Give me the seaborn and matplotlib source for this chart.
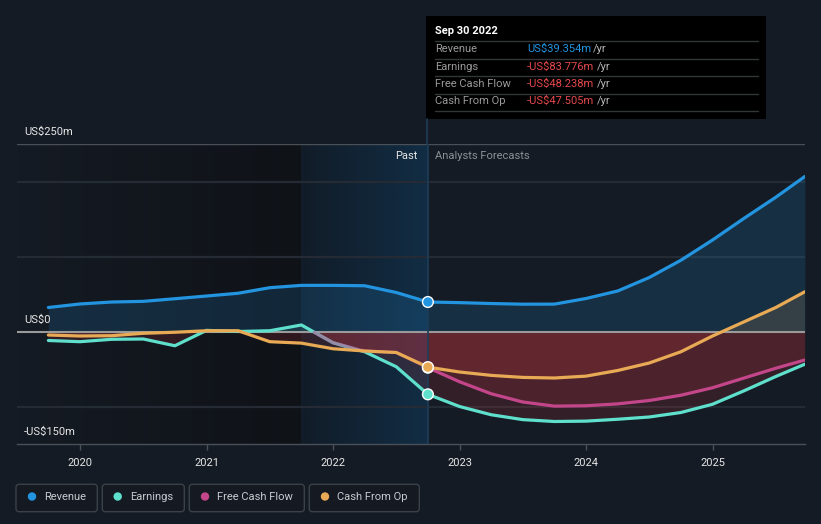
import numpy as np
import pandas as pd
import matplotlib
matplotlib.use("Agg")
import matplotlib.pyplot as plt
import seaborn as sns
from matplotlib.patches import FancyBboxPatch, Rectangle, Circle

# ---------------- data (US$ m, dates as fractional years) ----------------
past_dates = [2019.75, 2020.0, 2020.25, 2020.5, 2020.75, 2021.0, 2021.25,
              2021.5, 2021.75, 2022.0, 2022.25, 2022.5, 2022.75]
rev_past = [32, 36.7, 39.3, 40.2, 43.7, 47.3, 51, 58.4, 61.5, 61.5, 61, 52, 39.354]
earn_past = [-12, -13.6, -10.4, -10, -19, 1.5, 0, 1, 8.7, -15, -27, -47, -83.776]
cfo_past = [-4.7, -6, -5.6, -2.4, -1, 1, 1, -13.6, -15.5, -23, -26, -28, -47.505]
fcf_past_dates = [2021.85, 2022.0, 2022.25, 2022.5, 2022.75]
fcf_past = [-1, -15, -26, -28, -48.238]

fc_dates = [2022.75, 2023.0, 2023.25, 2023.5, 2023.75, 2024.0, 2024.25,
            2024.5, 2024.75, 2025.0, 2025.25, 2025.5, 2025.73]
rev_fc = [39.354, 38.5, 37.3, 36.4, 36.5, 44, 54, 72, 95, 122, 151, 179, 206.7]
earn_fc = [-83.776, -100, -111, -117.5, -120, -119.5, -117, -114, -108, -97, -79, -60, -43.6]
fcf_fc = [-48.238, -67, -83, -94, -99.5, -99, -96.5, -92, -85, -75, -62, -49, -38]
cfo_fc = [-47.505, -54, -58.5, -61.2, -62, -59.5, -52, -42, -27, -6, 13, 32, 53]

year_ticks = [2020, 2021, 2022, 2023, 2024, 2025]
year_labels = ["2020", "2021", "2022", "2023", "2024", "2025"]
y_labels = ["US$250m", "US$0", "-US$150m"]

series_names = ["Revenue", "Earnings", "Free Cash Flow", "Cash From Op"]
tooltip_date = "Sep 30 2022"
tooltip_values = ["US$39.354m", "-US$83.776m", "-US$48.238m", "-US$47.505m"]

colors = {"Revenue": "#2394df", "Earnings": "#5fe0cc",
          "Free Cash Flow": "#c4468a", "Cash From Op": "#e8aa55"}
BG = "#151b24"
NEG = "#e03a44"

sns.set_theme(style="dark")
plt.rcParams["font.family"] = ["Roboto", "DejaVu Sans"]

fig = plt.figure(figsize=(8.21, 5.24), dpi=100, facecolor=BG)
ax = fig.add_axes([17 / 821, 1 - 444 / 524, 788 / 821, 300 / 524])
ax.set_facecolor(BG)
X0, X1 = 2019.502, 2025.731
Y0, Y1 = -150, 250

# background regions (gradients)
def hgrad(x0, x1, c0, c1, z=0):
    n = 256
    t = np.linspace(0, 1, n)
    c0 = np.array(c0) / 255.0
    c1 = np.array(c1) / 255.0
    img = (c0[None, :] * (1 - t[:, None]) + c1[None, :] * t[:, None])[None, :, :]
    ax.imshow(img, extent=[x0, x1, Y0, Y1], aspect="auto", zorder=z,
              interpolation="bilinear")

hgrad(X0, 2021.75, (21, 27, 36), (15, 18, 23))
hgrad(2021.75, 2022.75, (17, 28, 40), (17, 45, 68))

# gridlines
for v in [200, 100, -100]:
    ax.axhline(v, color="#252b34", lw=1.6, zorder=1)
ax.axhline(250, color="#4a5058", lw=1.0, zorder=1)

# full series for fills
def fill_series(d, v, col, pos_alpha):
    d = np.array(d, dtype=float)
    v = np.array(v, dtype=float)
    ax.fill_between(d, v, 0, where=v < 0, interpolate=True, color=NEG,
                    alpha=0.15, lw=0, zorder=2)
    ax.fill_between(d, v, 0, where=v > 0, interpolate=True, color=col,
                    alpha=pos_alpha, lw=0, zorder=2)

rev_all_d = past_dates + fc_dates[1:]
fill_series(rev_all_d, rev_past + rev_fc[1:], colors["Revenue"], 0.17)
fill_series(rev_all_d, earn_past + earn_fc[1:], colors["Earnings"], 0.10)
fill_series(fcf_past_dates + fc_dates[1:], fcf_past + fcf_fc[1:], colors["Free Cash Flow"], 0.10)
fill_series(rev_all_d, cfo_past + cfo_fc[1:], colors["Cash From Op"], 0.14)

ax.axhline(0, color="#9a9a9a", lw=1.5, zorder=3)

lw = 2.3
def line(d, v, name, alpha=1.0, z=4):
    sns.lineplot(x=d, y=v, color=colors[name], lw=lw, alpha=alpha, ax=ax,
                 estimator=None, sort=False, legend=False, zorder=z)

line(past_dates, rev_past, "Revenue")
line(fc_dates, rev_fc, "Revenue")
line(past_dates, earn_past, "Earnings")
line(fc_dates, earn_fc, "Earnings")
line(fcf_past_dates, fcf_past, "Free Cash Flow", alpha=0.55)
line(fc_dates, fcf_fc, "Free Cash Flow")
line(past_dates, cfo_past, "Cash From Op")
line(fc_dates, cfo_fc, "Cash From Op")

ax.axvline(2022.75, color="#1d3d5a", lw=1.2, zorder=3)

pts = pd.DataFrame({"date": [2022.75] * 4,
                    "value": [rev_fc[0], earn_fc[0], fcf_fc[0], cfo_fc[0]],
                    "series": series_names})
sns.scatterplot(data=pts, x="date", y="value", hue="series", palette=colors,
                s=60, edgecolor="white", linewidth=1.0, ax=ax, legend=False, zorder=6)

ax.set_xlim(X0, X1)
ax.set_ylim(Y0, Y1)
ax.set_xticks(year_ticks)
ax.set_xticklabels(year_labels)
ax.set_yticks([])
ax.set_xlabel("")
ax.set_ylabel("")
ax.grid(False)
for s in ["top", "left", "right"]:
    ax.spines[s].set_visible(False)
ax.spines["bottom"].set_color("#4a5058")
ax.spines["bottom"].set_linewidth(1.0)
ax.tick_params(axis="x", colors="#4a5058", length=4, width=1, labelcolor="#e6e6e6",
               labelsize=8, pad=6, bottom=True)

# ---------------- overlay in pixel coordinates ----------------
ov = fig.add_axes([0, 0, 1, 1])
ov.set_xlim(0, 821)
ov.set_ylim(524, 0)
ov.axis("off")
ov.patch.set_alpha(0)

ov.text(24, 132, y_labels[0], color="#e6e6e6", fontsize=8, va="center", ha="left")
ov.text(24, 320, y_labels[1], color="#e6e6e6", fontsize=8, va="center", ha="left")
ov.text(24, 432, y_labels[2], color="#e6e6e6", fontsize=8, va="center", ha="left")

ov.text(418, 156, "Past", color="#e6e6e6", fontsize=8, va="center", ha="right")
ov.text(435, 156, "Analysts Forecasts", color="#8c9096", fontsize=8, va="center", ha="left")

# tooltip
ov.plot([427, 427], [119, 144], color="#1d3d5a", lw=1.2)
ov.add_patch(Rectangle((426, 16), 340, 103, facecolor="black", edgecolor="none"))
ov.text(435, 31, tooltip_date, color="white", fontsize=8, fontweight="bold", va="center")
for yy in [41, 58.5, 76, 93.5, 111]:
    ov.plot([435, 758], [yy, yy], color="#333638", lw=1)
row_y = [49.3, 66.7, 84.3, 101.3]
yr_x = [593, 597, 597, 597]
for i, name in enumerate(series_names):
    ov.text(435, row_y[i], name, color="#9a9a9a", fontsize=8, va="center")
    vcol = colors["Revenue"] if i == 0 else "#e5484d"
    ov.text(527, row_y[i], tooltip_values[i], color=vcol, fontsize=8, va="center")
    ov.text(yr_x[i], row_y[i], "/yr", color="#b8b8b8", fontsize=8, va="center")

# legend boxes
boxes = [(16, 97.3), (102.3, 184.3), (189.3, 304.3), (309.3, 419.3)]
dots = [32, 117.7, 205, 325]
txt_x = [44.3, 130, 217, 337]
for i, name in enumerate(series_names):
    bx0, bx1 = boxes[i]
    ov.add_patch(FancyBboxPatch((bx0, 484.3), bx1 - bx0, 27.4,
                                boxstyle="round,pad=0,rounding_size=3",
                                facecolor="#141922", edgecolor="#3c4148", lw=1))
    ov.add_patch(Circle((dots[i], 496.5), 4.2, facecolor=colors[name], edgecolor="none"))
    ov.text(txt_x[i], 496.5, name, color="#c8ccd0", fontsize=8, va="center", ha="left")

fig.savefig("out.png", dpi=100, facecolor=BG)
